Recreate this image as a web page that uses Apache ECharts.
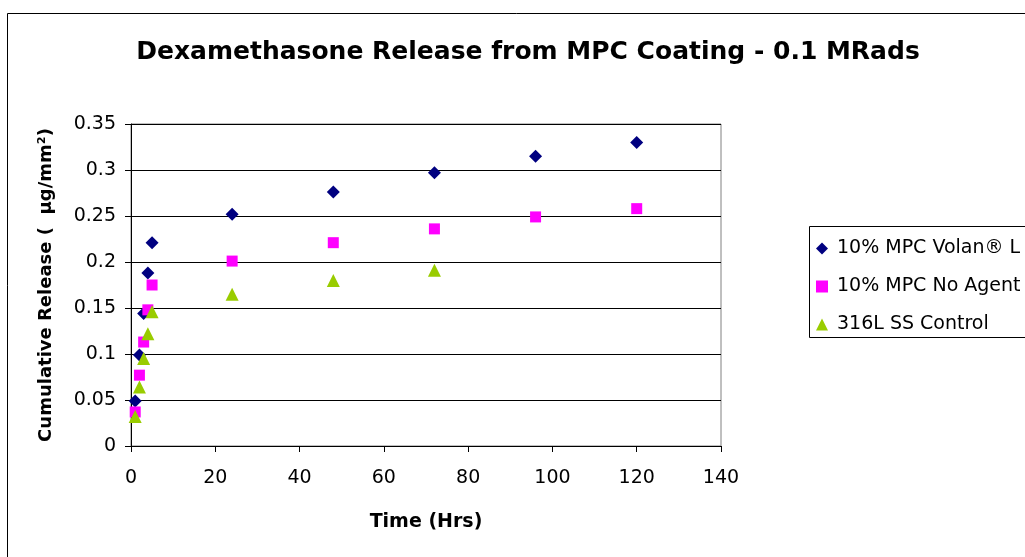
<!DOCTYPE html>
<html>
<head>
<meta charset="utf-8">
<script src="https://cdn.jsdelivr.net/npm/echarts@6/dist/echarts.min.js"></script>
<style>
  html, body { margin: 0; padding: 0; background: #fff; }
  #chart { width: 1025px; height: 557px; }
</style>
</head>
<body>
<div id="chart"></div>
<script>
// Sampling times (hours) and cumulative release values (µg/mm²)
const timesVolan = [1, 2, 3, 4, 5, 24, 48, 72, 96, 120];
const volan = [0.049, 0.099, 0.144, 0.188, 0.221, 0.252, 0.276, 0.297, 0.315, 0.330];

const timesNoAgent = [1, 2, 3, 4, 5, 24, 48, 72, 96, 120];
const noAgent = [0.037, 0.077, 0.113, 0.148, 0.175, 0.201, 0.221, 0.236, 0.249, 0.258];

const timesControl = [1, 2, 3, 4, 5, 24, 48, 72];
const control = [0.032, 0.064, 0.095, 0.122, 0.146, 0.165, 0.180, 0.191];

const seriesNames = ['10% MPC Volan® L', '10% MPC No Agent', '316L SS Control'];

const pair = (xs, ys) => xs.map((x, i) => [x, ys[i]]);

const FONT = '"DejaVu Sans", "Liberation Sans", Arial, sans-serif';

const chart = echarts.init(document.getElementById('chart'), null, { renderer: 'canvas' });

chart.setOption({
  animation: false,
  backgroundColor: '#ffffff',
  title: {
    text: 'Dexamethasone Release from MPC Coating - 0.1 MRads',
    left: 523,
    textAlign: 'center',
    top: 35,
    textStyle: { fontFamily: FONT, fontWeight: 'bold', fontSize: 25, color: '#000' }
  },
  grid: { left: 131, top: 124, right: 304, bottom: 111, show: true, borderColor: '#808080', borderWidth: 1 },
  xAxis: {
    type: 'value', min: 0, max: 140, interval: 20,
    name: 'Time (Hrs)', nameLocation: 'middle', nameGap: 67,
    nameTextStyle: { fontFamily: FONT, fontWeight: 'bold', fontSize: 19, color: '#000' },
    axisLine: { show: true, onZero: false, lineStyle: { color: '#000', width: 1 } },
    axisTick: { show: true, length: 6, inside: false, lineStyle: { color: '#000' } },
    axisLabel: { fontFamily: FONT, fontSize: 19, color: '#000', margin: 23 },
    splitLine: { show: false }
  },
  yAxis: {
    type: 'value', min: 0, max: 0.35, interval: 0.05,
    name: 'Cumulative Release (  µg/mm²)', nameLocation: 'middle', nameGap: 76, nameRotate: 90,
    nameTextStyle: { fontFamily: FONT, fontWeight: 'bold', fontSize: 18, color: '#000' },
    axisLine: { show: true, lineStyle: { color: '#000', width: 1 } },
    axisTick: { show: true, length: 6, inside: false, lineStyle: { color: '#000' } },
    axisLabel: { fontFamily: FONT, fontSize: 19, color: '#000', margin: 15 },
    splitLine: { show: true, lineStyle: { color: '#000', width: 1 } }
  },
  legend: {
    orient: 'vertical', left: 811, top: 234, itemWidth: 12, itemHeight: 12, itemGap: 19,
    data: [
      { name: seriesNames[0], icon: 'diamond' },
      { name: seriesNames[1], icon: 'rect' },
      { name: seriesNames[2], icon: 'triangle' }
    ],
    textStyle: { fontFamily: FONT, fontSize: 19, color: '#000', padding: [0, 0, 0, 4] },
    itemStyle: { borderWidth: 0 }
  },
  graphic: [
    { type: 'rect', shape: { x: 7.5, y: 13.5, width: 1100, height: 600 },
      style: { fill: 'none', stroke: '#000', lineWidth: 1 }, silent: true, z: -1 },
    { type: 'rect', shape: { x: 809.5, y: 226.5, width: 400, height: 111 },
      style: { fill: 'none', stroke: '#000', lineWidth: 1 }, silent: true }
  ],
  series: [
    { name: seriesNames[0], type: 'scatter', symbol: 'diamond', symbolSize: 13,
      itemStyle: { color: '#000080', opacity: 1 }, data: pair(timesVolan, volan) },
    { name: seriesNames[1], type: 'scatter', symbol: 'rect', symbolSize: 11,
      itemStyle: { color: '#ff00ff', opacity: 1 }, data: pair(timesNoAgent, noAgent) },
    { name: seriesNames[2], type: 'scatter', symbol: 'triangle', symbolSize: 13,
      itemStyle: { color: '#99cc00', opacity: 1 }, data: pair(timesControl, control) }
  ]
});
</script>
</body>
</html>
